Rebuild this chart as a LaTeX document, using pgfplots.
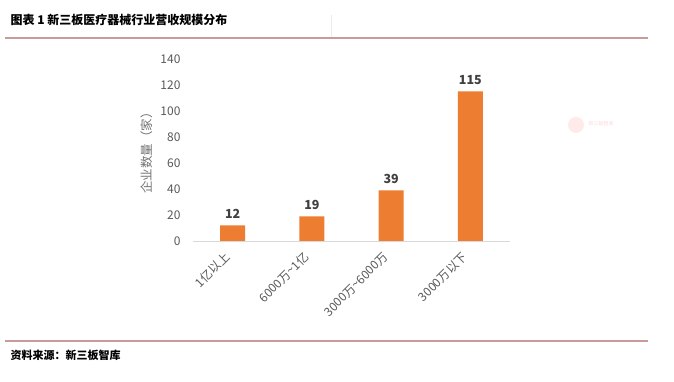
\documentclass[border=0pt]{standalone}
\usepackage{fontspec}
\setmainfont{Noto Sans CJK SC}
\usepackage{pgfplots}
\pgfplotsset{compat=1.18}
\definecolor{barorange}{HTML}{ED7D31}
\definecolor{ticklab}{HTML}{595959}
\definecolor{vallab}{HTML}{404040}
\definecolor{rulered}{HTML}{C99A9A}
\begin{document}
\begin{tikzpicture}
\path[use as bounding box, fill=white] (0pt,0pt) rectangle (674pt,382pt);
% title
\node[anchor=west, font=\fontsize{12}{14}\selectfont\bfseries] at (7pt,362pt) {图表 1 新三板医疗器械行业营收规模分布};
\draw[line width=1.2pt, rulered] (5pt,344pt) -- (648pt,344pt);
\draw[line width=0.4pt, black!8] (331pt,345pt) -- (331pt,367pt);
\draw[line width=1.2pt, rulered] (5pt,41pt) -- (648pt,41pt);
\node[anchor=west, font=\fontsize{11}{13}\selectfont\bfseries] at (7pt,27pt) {资料来源：新三板智库};
% watermark
\fill[red!20, opacity=0.4] (576pt,257pt) circle (8pt);
\node[anchor=west, font=\fontsize{5}{6}\selectfont, red!30, opacity=0.5] at (585pt,258pt) {新三板智库};
\begin{axis}[
  at={(193pt,141pt)}, anchor=south west,
  scale only axis, width=317pt, height=182pt,
  xmin=-0.5, xmax=3.5, ymin=0, ymax=140,
  ytick={0,20,...,140},
  xtick={0,1,2,3},
  xticklabels={1亿以上,6000万\textasciitilde 1亿,3000万\textasciitilde 6000万,3000万以下},
  axis x line*=bottom, axis y line*=left,
  x axis line style={draw=black!15, line width=0.8pt, -},
  y axis line style={draw=none},
  major tick length=0pt,
  /pgf/number format/assume math mode=true,
  yticklabel style={font=\fontsize{12}{14}\selectfont, text=ticklab, xshift=-9pt},
  xticklabel style={font=\fontsize{12}{14}\selectfont, text=ticklab, rotate=45, anchor=east, xshift=-10pt, yshift=-6pt},
  ylabel={企业数量（家）},
  ylabel style={font=\fontsize{12.5}{14}\selectfont, text=black!55, at={(axis description cs:-0.145,0.5)}, anchor=center},
  enlargelimits=false, clip=false,
]
\addplot[ybar, bar width=25pt, fill=barorange, draw=none,
  nodes near coords, every node near coord/.append style={font=\fontsize{12.5}{14}\selectfont\bfseries, text=vallab, yshift=3pt}]
  coordinates {(0,12) (1,19) (2,39) (3,115)};
\end{axis}
\end{tikzpicture}
\end{document}
